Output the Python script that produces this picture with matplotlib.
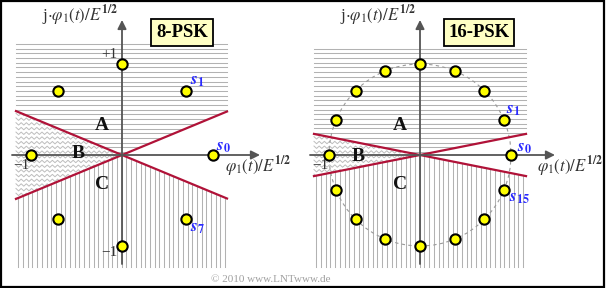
import numpy as np
import matplotlib
matplotlib.use("Agg")
import matplotlib.pyplot as plt
from matplotlib.patches import Polygon, Rectangle, Circle

plt.rcParams["mathtext.fontset"] = "stix"
plt.rcParams["font.family"] = ["Liberation Serif", "DejaVu Serif"]

# ---- chart content -------------------------------------------------------
psk_orders = [8, 16]
panel_titles = ["8-PSK", "16-PSK"]
region_names = ["A", "B", "C"]
# symbol indices that carry a name label, per panel
named_symbols = [[0, 1, 7], [0, 1, 15]]
axis_label_x = r"$\varphi_1(t)/E^{\mathbf{1/2}}$"
axis_label_y = r"j$\cdot\varphi_1(t)/E^{\mathbf{1/2}}$"
copyright_text = "© 2010 www.LNTwww.de"

# ---- layout (pixels) -----------------------------------------------------
W, H, DPI = 606, 288, 100
PX = 91.0                       # pixels per unit amplitude
origins_px = [(122, 155), (420, 155)]
panel_px = [(0, 303), (303, 606)]
hatch_box = [(-1.165, 1.154, -1.23, 1.22), (-1.165, 1.165, -1.23, 1.17)]
step = 4.7 / PX                 # hatch line spacing
hatch_col = "#b2b2b2"
red = "#b01238"
axis_col = "#555555"

# label offsets for the named symbols (pixels: right, up)
name_offsets = [
    {0: (3, 8), 1: (4, 10), 7: (4, -9)},
    {0: (6, 7), 1: (2, 10), 15: (5, -8)},
]
region_pos = [
    {"A": (-0.22, 0.32), "B": (-0.48, 0.02), "C": (-0.22, -0.32)},
    {"A": (-0.22, 0.32), "B": (-0.68, -0.02), "C": (-0.22, -0.32)},
]
title_pos = [(0.659, 1.346), (0.648, 1.346)]

fig = plt.figure(figsize=(W / DPI, H / DPI), dpi=DPI)


def sector(ax, a1, a2):
    t = np.linspace(a1, a2, 200)
    pts = np.vstack([[0, 0], np.c_[5 * np.cos(t), 5 * np.sin(t)]])
    p = Polygon(pts, closed=True, transform=ax.transData,
                facecolor="none", edgecolor="none")
    ax.add_patch(p)
    return p


for i, M in enumerate(psk_orders):
    ox, oy = origins_px[i]
    p0, p1 = panel_px[i]
    ax = fig.add_axes([p0 / W, 0, (p1 - p0) / W, 1])
    ax.set_xlim((p0 - ox) / PX, (p1 - ox) / PX)
    ax.set_ylim((oy - H) / PX, oy / PX)
    ax.set_aspect("auto")
    ax.axis("off")

    x0, x1, y0, y1 = hatch_box[i]
    tb = np.pi / M

    # region A: horizontal hatch
    clipA = sector(ax, tb, np.pi - tb)
    for y in np.arange(y1, y0, -step):
        ln, = ax.plot([x0, x1], [y, y], color=hatch_col, lw=0.75, zorder=1)
        ln.set_clip_path(clipA)

    # region C: vertical hatch
    clipC = sector(ax, np.pi + tb, 2 * np.pi - tb)
    for x in np.arange(x0 + 0.5 * step, x1, step):
        ln, = ax.plot([x, x], [y0, y1], color=hatch_col, lw=0.75, zorder=1)
        ln.set_clip_path(clipC)

    # region B: wavy hatch
    clipB = sector(ax, np.pi - tb, np.pi + tb)
    zx = np.arange(x0, 0.01, 2.6 / PX)
    amp = 1.2 / PX
    zz = amp * np.where(np.arange(len(zx)) % 2 == 0, 1, -1)
    for y in np.arange(y1, y0, -step):
        ln, = ax.plot(zx, y + zz, color="#bdbdbd", lw=0.7, zorder=1)
        ln.set_clip_path(clipB)

    # decision boundaries
    xs = np.array([x0, x1])
    ax.plot(xs, np.tan(tb) * xs, color=red, lw=1.6, zorder=3)
    ax.plot(xs, -np.tan(tb) * xs, color=red, lw=1.6, zorder=3)

    # coordinate axes
    arrow = dict(arrowstyle="-|>", color=axis_col, lw=1.3,
                 mutation_scale=13, shrinkA=0, shrinkB=0)
    xr = 138 / PX if i == 0 else 135 / PX
    ax.annotate("", xy=(xr, 0), xytext=(-1.209, 0), arrowprops=arrow, zorder=4)
    ax.annotate("", xy=(0, 1.484), xytext=(0, -1.198), arrowprops=arrow, zorder=4)

    # unit circle for 16-PSK
    if M == 16:
        ax.add_patch(Circle((0, 0), 1.0, fill=False, ls=(0, (3, 3)),
                            ec="#9a9a9a", lw=0.8, zorder=2))

    # signal points
    ang = 2 * np.pi * np.arange(M) / M
    ax.scatter(np.cos(ang), np.sin(ang), s=55, facecolor="#ffff00",
               edgecolor="black", linewidths=1.5, zorder=6)

    # symbol names
    for k in named_symbols[i]:
        dx, dy = name_offsets[i][k]
        ax.annotate(r"$\mathbfit{s}_{\mathbf{%d}}$" % k,
                    xy=(np.cos(ang[k]), np.sin(ang[k])),
                    xytext=(dx * 0.72, dy * 0.72), textcoords="offset points",
                    ha="left", va="center", color="#2a2aff", fontsize=12.5,
                    zorder=7)

    # region letters
    for name in region_names:
        ax.text(*region_pos[i][name], name, ha="center", va="center",
                fontsize=14, fontweight="bold", color="#111111", zorder=7)

    # title box
    ax.text(*title_pos[i], panel_titles[i], ha="center", va="center",
            fontsize=13.5, fontweight="bold", zorder=8,
            bbox=dict(boxstyle="square,pad=0.25", fc="#ffffc4", ec="black",
                      lw=1.3))

    # axis labels and tick values
    ax.text(-0.05, 1.53, axis_label_y, ha="right", va="center",
            fontsize=12, color="#333333")
    ax.text(1.13 if i == 0 else 1.286, -0.13, axis_label_x, ha="left",
            va="center", fontsize=12, color="#333333")
    ax.text(-1.11 if i == 0 else -1.10, -0.12, "−1", ha="center",
            va="center", fontsize=11, color="#333333")
    if i == 0:
        ax.text(-0.05, 1.10, "+1", ha="right", va="center", fontsize=11,
                color="#333333")
        ax.text(-0.045, -1.066, "−1", ha="right", va="center", fontsize=11,
                color="#333333")

fig.text(271 / W, 1 - 279 / H, copyright_text, ha="center", va="center",
         fontsize=8, color="#a0a0a0")
fig.add_artist(Rectangle((1 / W, 1 - 287 / H), 603 / W, 286 / H,
                         transform=fig.transFigure, fill=False,
                         ec="black", lw=1.6))

fig.savefig("out.png", dpi=DPI)
